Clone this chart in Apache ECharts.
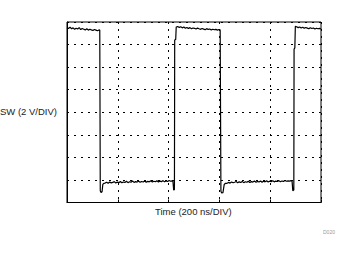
<!DOCTYPE html>
<html>
<head>
<meta charset="utf-8">
<script src="https://cdn.jsdelivr.net/npm/echarts@6/dist/echarts.min.js"></script>
<style>html,body{margin:0;padding:0;background:#fff;}#c{width:350px;height:254px;}</style>
</head>
<body>
<div id="c"></div>
<script>
// Time axis (ns), 200 ns/DIV, 5 divisions
var xTicks = [0, 200, 400, 600, 800, 1000];
// Voltage axis (V), 2 V/DIV, 8 divisions
var yTicks = [-2, 0, 2, 4, 6, 8, 10, 12, 14];

// Trace: time (ns)
var timeNs = [
  0,6,12,18,24,30,36,42,48,54,60,66,72,78,84,90,96,102,108,114,120,126,
  129,131,134,138,141,145,
  150,156,162,168,174,180,186,192,198,204,210,216,222,228,234,240,246,252,258,264,270,276,282,288,294,300,306,312,318,324,330,336,342,348,354,360,366,372,378,384,390,396,402,408,414,
  417,420,423,424,428,430,
  436,442,448,454,460,466,472,478,484,490,496,502,508,514,520,526,532,538,544,550,556,562,568,574,580,586,592,598,
  603,606,609,614,619,624,
  630,636,642,648,654,660,666,672,678,684,690,696,702,708,714,720,726,732,738,744,750,756,762,768,774,780,786,792,798,804,810,816,822,828,834,840,846,852,858,864,870,876,882,
  886,889,893,894,897,899,
  904,910,916,922,928,934,940,946,952,958,964,970,976,982,988,994,1000
];
// Trace: SW voltage (V)
var swVolts = [
  13.50,13.42,13.55,13.40,13.48,13.35,13.45,13.38,13.50,13.33,13.42,13.36,13.30,13.40,13.28,13.36,13.30,13.25,13.34,13.28,13.22,13.30,
  13.28,-0.95,-1.12,-1.05,-0.40,-0.30,
  -0.28,-0.20,-0.30,-0.18,-0.26,-0.22,-0.15,-0.27,-0.19,-0.24,-0.14,-0.25,-0.18,-0.22,-0.12,-0.24,-0.16,-0.20,-0.10,-0.22,-0.15,-0.19,-0.11,-0.21,-0.14,-0.18,-0.09,-0.20,-0.13,-0.17,-0.08,-0.19,-0.12,-0.16,-0.07,-0.18,-0.10,-0.15,-0.06,-0.17,-0.09,-0.14,-0.05,-0.12,-0.08,
  -0.10,-0.90,-0.85,12.40,12.45,13.55,
  13.60,13.52,13.58,13.48,13.55,13.45,13.52,13.42,13.50,13.40,13.47,13.44,13.38,13.46,13.40,13.35,13.43,13.37,13.32,13.41,13.34,13.38,13.30,13.36,13.31,13.35,13.28,13.33,
  13.30,-1.00,-1.15,-1.12,-0.40,-0.30,
  -0.30,-0.22,-0.28,-0.18,-0.25,-0.20,-0.14,-0.26,-0.17,-0.23,-0.13,-0.24,-0.16,-0.21,-0.11,-0.22,-0.15,-0.19,-0.10,-0.21,-0.13,-0.18,-0.09,-0.20,-0.12,-0.17,-0.08,-0.19,-0.11,-0.15,-0.07,-0.17,-0.10,-0.14,-0.06,-0.16,-0.09,-0.13,-0.05,-0.12,-0.08,-0.10,-0.06,
  -0.08,-0.95,-0.90,11.60,11.70,13.62,
  13.58,13.50,13.56,13.47,13.53,13.44,13.51,13.46,13.40,13.49,13.42,13.47,13.38,13.45,13.40,13.43,13.38
];

var yLabel = 'SW (2 V/DIV)';
var xLabel = 'Time (200 ns/DIV)';
var codeLabel = 'D020';

var pts = timeNs.map(function (t, i) { return [t, swVolts[i]]; });

var chart = echarts.init(document.getElementById('c'), null, {renderer: 'svg'});
var dotted = {color: '#000', width: 1, type: [2, 5]};
chart.setOption({
  animation: false,
  backgroundColor: '#fff',
  grid: {left: 67, top: 22, width: 254, height: 180.5, show: true, borderColor: '#000', borderWidth: 1, backgroundColor: 'transparent'},
  xAxis: {
    type: 'value', min: xTicks[0], max: xTicks[xTicks.length - 1], interval: xTicks[1] - xTicks[0],
    axisLine: {show: true, onZero: false, lineStyle: {color: '#000', width: 1}},
    axisTick: {show: true, inside: true, length: 3, lineStyle: {color: '#000'}},
    axisLabel: {show: false},
    splitLine: {show: true, lineStyle: dotted}
  },
  yAxis: {
    type: 'value', min: yTicks[0], max: yTicks[yTicks.length - 1], interval: yTicks[1] - yTicks[0],
    axisLine: {show: true, onZero: false, lineStyle: {color: '#000', width: 1}},
    axisTick: {show: false},
    axisLabel: {show: false},
    splitLine: {show: true, lineStyle: dotted}
  },
  graphic: [
    {type: 'text', left: 0, top: 106, style: {text: yLabel, fill: '#222', font: '9.5px "Liberation Sans", Arial, sans-serif'}},
    {type: 'text', left: 155, top: 206, style: {text: xLabel, fill: '#222', font: '9.5px "Liberation Sans", Arial, sans-serif'}},
    {type: 'text', left: 323, top: 229, style: {text: codeLabel, fill: '#999', font: '5px "Liberation Sans", Arial, sans-serif'}}
  ],
  series: [{
    type: 'line', data: pts, showSymbol: false, symbol: 'none',
    lineStyle: {color: '#000', width: 1.2}, z: 5
  }]
});
</script>
</body>
</html>
